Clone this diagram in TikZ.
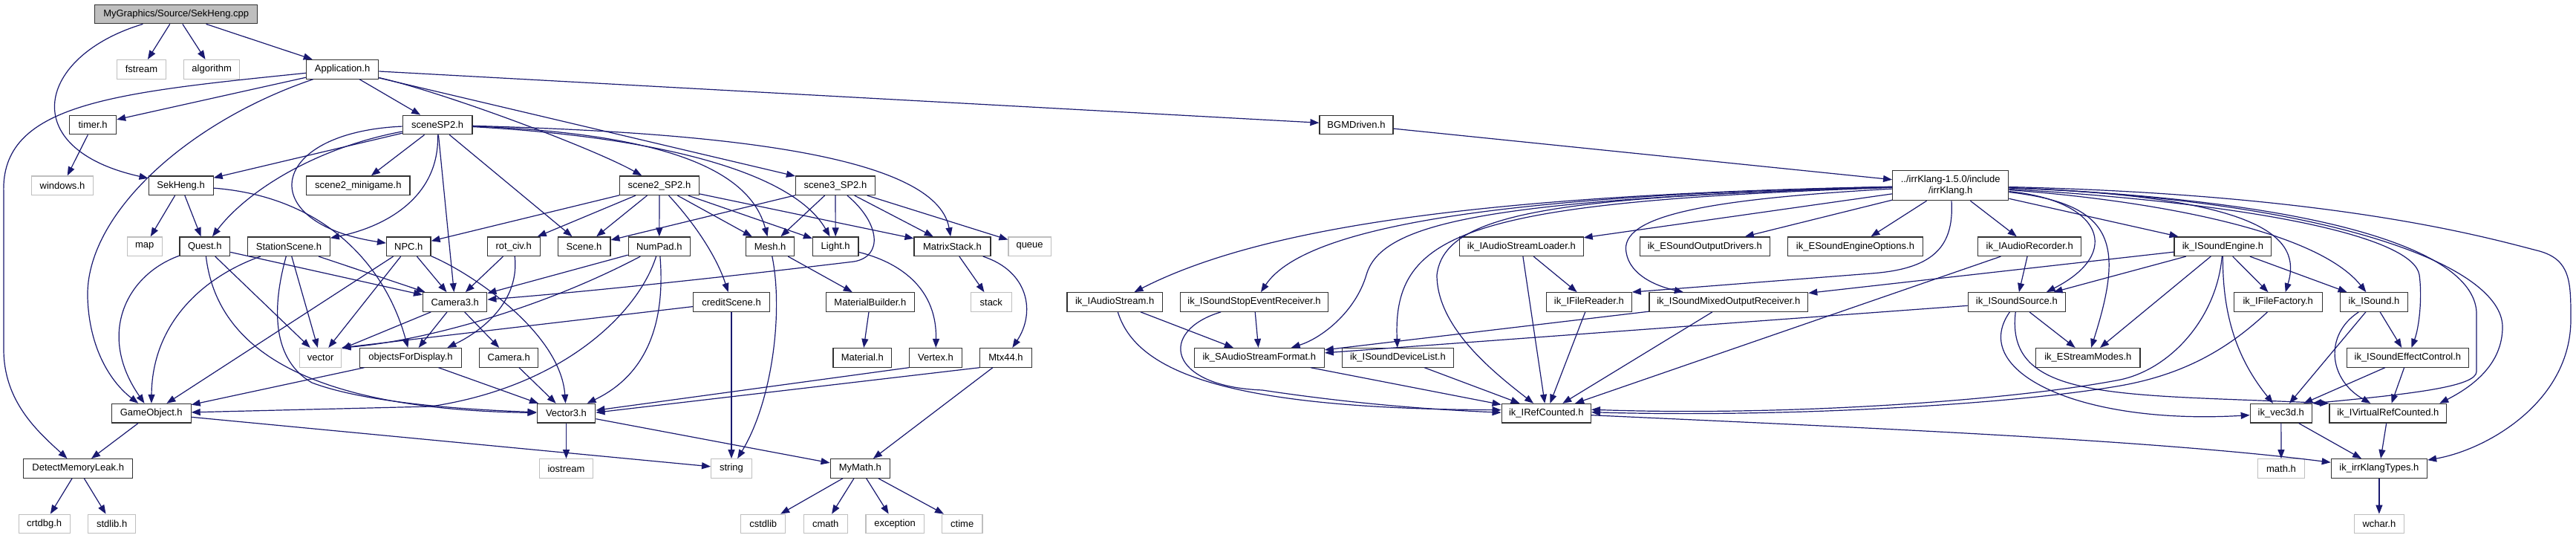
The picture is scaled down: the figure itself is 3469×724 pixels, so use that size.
\documentclass[tikz,border=0pt]{standalone}
\usepackage{fontspec}
\setmainfont{Liberation Sans}
\usetikzlibrary{arrows.meta}
\definecolor{edgeblue}{RGB}{25,25,112}
\definecolor{sysgray}{RGB}{191,191,191}
\definecolor{rootgray}{RGB}{191,191,191}
\definecolor{boxline}{RGB}{50,50,50}
\begin{document}
\begin{tikzpicture}[x=0.2mm,y=-0.2mm,
  nb/.style={draw=boxline, line width=0.24mm, rectangle, inner sep=0pt, minimum height=5.12mm, fill=white, font=\fontsize{7.4pt}{8.6pt}\selectfont},
  sysb/.style={nb, draw=sysgray},
  rootb/.style={nb, fill=rootgray},
  bw/.style={minimum width=#1*0.2mm},
  edg/.style={draw=edgeblue, line width=0.24mm, -{Triangle[length=2.4mm,width=1.8mm]}}]
\fill[white] (0,0) rectangle (3469,724);
\useasboundingbox (0,0) rectangle (3469,724);
% ---------- nodes ----------
\node[rootb,bw=219.1] (cpp) at (237.2,19) {MyGraphics/Source/SekHeng.cpp};
\node[sysb,bw=65.8] (fstream) at (190.5,93.3) {fstream};
\node[sysb,bw=74.8] (algorithm) at (285.2,93.3) {algorithm};
\node[nb,bw=97.3] (app) at (461.1,93.3) {Application.h};
\node[nb,bw=62.9] (timer) at (125.1,168) {timer.h};
\node[nb,bw=93.6] (sceneSP2) at (589.1,168) {sceneSP2.h};
\node[nb,bw=99] (bgm) at (1826.5,168) {BGMDriven.h};
\node[sysb,bw=82.9] (windows) at (84,249.7) {windows.h};
\node[nb,bw=87] (sekheng) at (243.6,249.7) {SekHeng.h};
\node[nb,bw=139.1] (minigame) at (482.4,249.7) {scene2\_minigame.h};
\node[nb,bw=106.9] (s2sp2) at (888,249.7) {scene2\_SP2.h};
\node[nb,bw=106.9] (s3sp2) at (1125,249.7) {scene3\_SP2.h};
\node[nb,bw=156.1,minimum height=8mm,align=center] (irr) at (2626.7,249.7) {../irrKlang-1.5.0/include\\/irrKlang.h};
% row 4
\node[sysb,bw=46.9] (map) at (194.8,331.7) {map};
\node[nb,bw=67.7] (quest) at (275.8,331.7) {Quest.h};
\node[nb,bw=110.6] (station) at (389,331.7) {StationScene.h};
\node[nb,bw=59.5] (npc) at (550.3,331.7) {NPC.h};
\node[nb,bw=71] (rotciv) at (691.7,331.7) {rot\_civ.h};
\node[nb,bw=70.6] (scene) at (786.6,331.7) {Scene.h};
\node[nb,bw=82.9] (numpad) at (887.8,331.7) {NumPad.h};
\node[nb,bw=65.5] (mesh) at (1037.1,331.7) {Mesh.h};
\node[nb,bw=61.4] (light) at (1125.2,331.7) {Light.h};
\node[nb,bw=102.9] (mstack) at (1282.5,331.7) {MatrixStack.h};
\node[sysb,bw=57.3] (queue) at (1386.6,331.7) {queue};
\node[nb,bw=166.5] (asloader) at (2048.9,331.7) {ik\_IAudioStreamLoader.h};
\node[nb,bw=175] (outdrv) at (2295.8,331.7) {ik\_ESoundOutputDrivers.h};
\node[nb,bw=181.6] (engopt) at (2498.5,331.7) {ik\_ESoundEngineOptions.h};
\node[nb,bw=139.1] (recorder) at (2733.2,331.7) {ik\_IAudioRecorder.h};
\node[nb,bw=130.8] (engine) at (2993.4,331.7) {ik\_ISoundEngine.h};
% row 5
\node[nb,bw=86.2] (cam3) at (612.7,406.5) {Camera3.h};
\node[nb,bw=102.9] (credit) at (985,406.5) {creditScene.h};
\node[nb,bw=119.1] (matb) at (1171.9,406.5) {MaterialBuilder.h};
\node[sysb,bw=55.1] (stack) at (1334.8,406.5) {stack};
\node[nb,bw=128.4] (astream) at (1501.2,406.5) {ik\_IAudioStream.h};
\node[nb,bw=199] (stopev) at (1689,406.5) {ik\_ISoundStopEventReceiver.h};
\node[nb,bw=114.7] (freader) at (2139.9,406.5) {ik\_IFileReader.h};
\node[nb,bw=213.8] (mixed) at (2327.8,406.5) {ik\_ISoundMixedOutputReceiver.h};
\node[nb,bw=131] (ssource) at (2715.8,406.5) {ik\_ISoundSource.h};
\node[nb,bw=118.9] (ffactory) at (3067.7,406.5) {ik\_IFileFactory.h};
\node[nb,bw=91.2] (sound) at (3197,406.5) {ik\_ISound.h};
% row 6
\node[sysb,bw=56.2] (vector) at (431.7,481.3) {vector};
\node[nb,bw=137.6] (ofd) at (553,481.3) {objectsForDisplay.h};
\node[nb,bw=78.8] (camera) at (685.2,481.3) {Camera.h};
\node[nb,bw=78.8] (material) at (1161.3,481.3) {Material.h};
\node[nb,bw=70.7] (vertex) at (1260,481.3) {Vertex.h};
\node[nb,bw=69.5] (mtx) at (1354.5,481.3) {Mtx44.h};
\node[nb,bw=175] (asfmt) at (1695.8,481.3) {ik\_SAudioStreamFormat.h};
\node[nb,bw=149.4] (devlist) at (1882.4,481.3) {ik\_ISoundDeviceList.h};
\node[nb,bw=140.2] (smodes) at (2811.8,481.3) {ik\_EStreamModes.h};
\node[nb,bw=164.3] (effect) at (3242.4,481.3) {ik\_ISoundEffectControl.h};
% row 7
\node[nb,bw=106.6] (gobj) at (203.8,556.2) {GameObject.h};
\node[nb,bw=78.7] (vec3) at (762.5,556.2) {Vector3.h};
\node[nb,bw=120.3] (refc) at (2082.3,556.2) {ik\_IRefCounted.h};
\node[nb,bw=83.1] (ikvec) at (3071.8,556.2) {ik\_vec3d.h};
\node[nb,bw=157.7] (vrefc) at (3215.8,556.2) {ik\_IVirtualRefCounted.h};
% row 8
\node[nb,bw=146.9] (dml) at (105.2,630.5) {DetectMemoryLeak.h};
\node[sysb,bw=72.1] (iostream) at (762.5,630.5) {iostream};
\node[sysb,bw=54.7] (string) at (985,630.5) {string};
\node[nb,bw=80.3] (mymath) at (1158.3,630.5) {MyMath.h};
\node[sysb,bw=62.7] (mathh) at (3072,630.5) {math.h};
\node[nb,bw=129.2] (ktypes) at (3203.9,630.5) {ik\_irrKlangTypes.h};
% row 9
\node[sysb,bw=69.1] (crtdbg) at (59.7,705) {crtdbg.h};
\node[sysb,bw=64] (stdlib) at (150.7,705) {stdlib.h};
\node[sysb,bw=60.3] (cstdlib) at (1027.7,705) {cstdlib};
\node[sysb,bw=58.8] (cmath) at (1111.7,705) {cmath};
\node[sysb,bw=78.4] (exception) at (1205.1,705) {exception};
\node[sysb,bw=54.7] (ctime) at (1295.7,705) {ctime};
\node[sysb,bw=66.5] (wchar) at (3203.9,705) {wchar.h};
% ---------- edges ----------
\draw[edg] (cpp) -- (fstream);
\draw[edg] (cpp) -- (algorithm);
\draw[edg] (cpp) -- (app);
\draw[edg] (cpp) .. controls (50,75) and (20,200) .. (sekheng);
\draw[edg] (app) -- (timer);
\draw[edg] (app) -- (sceneSP2);
\draw[edg] (app) .. controls (600,125) and (800,200) .. (s2sp2);
\draw[edg] (app) -- (s3sp2);
\draw[edg] (app) -- (bgm);
\draw[edg] (app) .. controls (150,125) and (0,140) .. (5,260) -- (5,470) .. controls (5,540) and (50,580) .. (dml);
\draw[edg] (app) .. controls (250,165) and (115,290) .. (118,400) .. controls (120,470) and (150,515) .. (gobj);
\draw[edg] (timer) -- (windows);
% sceneSP2
\draw[edg] (sceneSP2) -- (sekheng);
\draw[edg] (sceneSP2) .. controls (420,200) and (330,260) .. (quest);
\draw[edg] (sceneSP2) .. controls (360,178) and (340,300) .. (npc);
\draw[edg] (sceneSP2) -- (minigame);
\draw[edg] (sceneSP2) .. controls (592,265) and (520,305) .. (station);
\draw[edg] (sceneSP2) -- (cam3);
\draw[edg] (sceneSP2) -- (scene);
\draw[edg] (sceneSP2) .. controls (900,180) and (1010,230) .. (mesh);
\draw[edg] (sceneSP2) .. controls (900,185) and (1070,235) .. (light);
\draw[edg] (sceneSP2) .. controls (950,178) and (1260,205) .. (mstack);
% scene2_SP2
\draw[edg] (s2sp2) -- (npc);
\draw[edg] (s2sp2) -- (rotciv);
\draw[edg] (s2sp2) -- (scene);
\draw[edg] (s2sp2) -- (numpad);
\draw[edg] (s2sp2) .. controls (935,300) and (965,345) .. (credit);
\draw[edg] (s2sp2) -- (mesh);
\draw[edg] (s2sp2) -- (light);
\draw[edg] (s2sp2) -- (mstack);
% scene3_SP2
\draw[edg] (s3sp2) -- (scene);
\draw[edg] (s3sp2) -- (mesh);
\draw[edg] (s3sp2) -- (light);
\draw[edg] (s3sp2) -- (mstack);
\draw[edg] (s3sp2) -- (queue);
\draw[edg] (s3sp2) .. controls (1185,300) and (1190,345) .. (1150,352) .. controls (1000,370) and (800,392) .. (cam3);
% NPC
\draw[edg] (npc) -- (gobj);
\draw[edg] (npc) -- (vector);
\draw[edg] (npc) -- (cam3);
\draw[edg] (npc) .. controls (640,370) and (755,450) .. (vec3);
% Quest
\draw[edg] (quest) .. controls (170,370) and (130,450) .. (gobj);
\draw[edg] (quest) -- (vector);
\draw[edg] (quest) -- (cam3);
\draw[edg] (quest) .. controls (290,450) and (380,550) .. (vec3);
% StationScene
\draw[edg] (station) .. controls (280,370) and (205,430) .. (gobj);
\draw[edg] (station) .. controls (370,400) and (360,480) .. (420,515) .. controls (500,545) and (650,552) .. (vec3);
\draw[edg] (station) -- (vector);
\draw[edg] (station) -- (cam3);
% SekHeng.h
\draw[edg] (sekheng) -- (map);
\draw[edg] (sekheng) -- (quest);
\draw[edg] (sekheng) .. controls (440,265) and (520,360) .. (ofd);
% rot_civ
\draw[edg] (rotciv) -- (cam3);
\draw[edg] (rotciv) .. controls (700,405) and (650,445) .. ([xshift=-4mm]ofd.north east);
% NumPad
\draw[edg] (numpad) -- (cam3);
\draw[edg] (numpad) .. controls (720,420) and (560,460) .. (vector.north east);
\draw[edg] (numpad) .. controls (860,420) and (760,520) .. (580,547) -- (gobj);
\draw[edg] (numpad) .. controls (895,420) and (880,500) .. (vec3);
% creditScene
\draw[edg] (credit) -- (vector.north east);
\draw[edg] (credit) -- (string);
% Camera3
\draw[edg] (cam3) -- (vector);
\draw[edg] (cam3) -- (ofd);
\draw[edg] (cam3) -- (camera);
% objectsForDisplay, Camera
\draw[edg] (ofd) -- (gobj);
\draw[edg] (ofd) -- (vec3);
\draw[edg] (camera) -- (vec3);
% Mesh, Light, MatrixStack
\draw[edg] (mesh) .. controls (1055,420) and (1040,540) .. (string);
\draw[edg] (mesh) -- (matb);
\draw[edg] (light) .. controls (1200,350) and (1262,380) .. (vertex);
\draw[edg] (mstack) -- (stack);
\draw[edg] (mstack) .. controls (1385,365) and (1395,420) .. (mtx);
\draw[edg] (matb) -- (material);
\draw[edg] (vertex.south west) -- ([yshift=0.8mm]vec3.east);
\draw[edg] (mtx.south west) -- ([yshift=0.2mm]vec3.east);
\draw[edg] (mtx) -- (mymath);
% Vector3, GameObject, MyMath, DetectMemoryLeak
\draw[edg] (vec3) -- (iostream);
\draw[edg] (vec3) -- (mymath);
\draw[edg] (gobj) -- (dml);
\draw[edg] (gobj) -- (string);
\draw[edg] (mymath) -- (cstdlib);
\draw[edg] (mymath) -- (cmath);
\draw[edg] (mymath) -- (exception);
\draw[edg] (mymath) -- (ctime);
\draw[edg] (dml) -- (crtdbg);
\draw[edg] (dml) -- (stdlib);
% ---------- irrKlang ----------
\draw[edg] (bgm) -- (irr);
\draw[edg] (irr) -- (asloader);
\draw[edg] (irr) -- (outdrv);
\draw[edg] (irr) -- (engopt);
\draw[edg] (irr) -- (recorder);
\draw[edg] (irr) .. controls (2000,262) and (1700,305) .. (astream);
\draw[edg] (irr) .. controls (2050,262) and (1760,300) .. (stopev);
\draw[edg] (irr) .. controls (2000,268) and (1860,300) .. (1840,370) .. controls (1825,420) and (1780,455) .. (asfmt);
\draw[edg] (irr) .. controls (1980,272) and (1875,310) .. (devlist);
\draw[edg] (irr) .. controls (2100,265) and (1945,285) .. (1935,370) .. controls (1935,440) and (2010,500) .. (refc);
\draw[edg] (irr) .. controls (2300,268) and (2180,290) .. (2190,340) .. controls (2195,370) and (2230,385) .. (mixed);
\draw[edg] (irr) .. controls (2632,335) and (2600,362) .. (2520,368) -- (freader.north east);
\draw[edg] (irr) .. controls (2830,270) and (2860,340) .. ([xshift=8mm]ssource.north);
\draw[edg] (irr) .. controls (2850,275) and (2860,330) .. (smodes);
\draw[edg] (irr) -- (engine);
\draw[edg] (irr) .. controls (3050,265) and (3100,320) .. ([xshift=2mm]ffactory.north);
\draw[edg] (irr) .. controls (2900,270) and (3120,310) .. (sound);
\draw[edg] (irr) .. controls (3050,275) and (3250,320) .. (3258,370) .. controls (3262,400) and (3258,440) .. (effect);
\draw[edg] (irr) .. controls (3100,268) and (3330,330) .. (3335,420) -- (3335,500) .. controls (3335,520) and (3250,530) .. (ikvec.north east);
\draw[edg] (irr) .. controls (3150,270) and (3370,360) .. (3370,440) .. controls (3370,490) and (3330,520) .. ([xshift=-2mm]vrefc.north east);
\draw[edg] (irr) .. controls (3150,262) and (3350,320) .. (3420,338) .. controls (3462,350) and (3462,380) .. (3462,430) .. controls (3462,540) and (3350,605) .. (ktypes);
% ISoundEngine
\draw[edg] (engine) -- (mixed);
\draw[edg] (engine) -- (ssource);
\draw[edg] (engine) -- (smodes);
\draw[edg] (engine) .. controls (2985,430) and (2920,500) .. (2850,512) .. controls (2700,540) and (2400,560) .. ([yshift=1mm]refc.east);
\draw[edg] (engine) .. controls (2993,420) and (3010,480) .. (ikvec);
\draw[edg] (engine) -- (ffactory);
\draw[edg] (engine) -- (sound);
% IFileFactory
\draw[edg] (ffactory) .. controls (3000,470) and (2940,505) .. (2850,520) .. controls (2700,545) and (2400,562) .. ([yshift=0.3mm]refc.east);
% ISound, effect control
\draw[edg] (sound) -- (ikvec);
\draw[edg] (sound) .. controls (3130,450) and (3135,510) .. (vrefc);
\draw[edg] (sound) -- (effect);
\draw[edg] (effect) -- (ikvec);
\draw[edg] (effect) -- (vrefc);
% lower irrKlang
\draw[edg] (ikvec) -- (mathh);
\draw[edg] (ikvec) -- (ktypes);
\draw[edg] (vrefc) -- (ktypes);
\draw[edg] ([yshift=-0.5mm]refc.east) .. controls (2500,575) and (2900,592) .. (ktypes);
\draw[edg] (ktypes) -- (wchar);
% left irrKlang group
\draw[edg] (astream) .. controls (1530,500) and (1650,550) .. ([yshift=0.9mm]refc.west);
\draw[edg] (astream) -- (asfmt);
\draw[edg] (stopev) -- (asfmt);
\draw[edg] (stopev) .. controls (1560,445) and (1570,520) .. (1700,525) .. controls (1800,540) and (1900,550) .. ([yshift=0.2mm]refc.west);
\draw[edg] (asfmt) -- (refc);
\draw[edg] (devlist) -- (refc);
\draw[edg] (asloader) -- (refc);
\draw[edg] (asloader) -- (freader);
\draw[edg] (freader) -- (refc);
\draw[edg] (mixed) -- (asfmt);
\draw[edg] (mixed) -- (refc);
\draw[edg] (recorder) -- (ssource);
\draw[edg] (recorder) -- (refc);
\draw[edg] (ssource) -- (asfmt);
\draw[edg] (ssource) -- (smodes);
\draw[edg] (ssource) .. controls (2650,500) and (2800,572) .. (ikvec);
\draw[edg] (ssource) .. controls (2700,540) and (2850,530) .. (vrefc.north west);
\end{tikzpicture}
\end{document}
